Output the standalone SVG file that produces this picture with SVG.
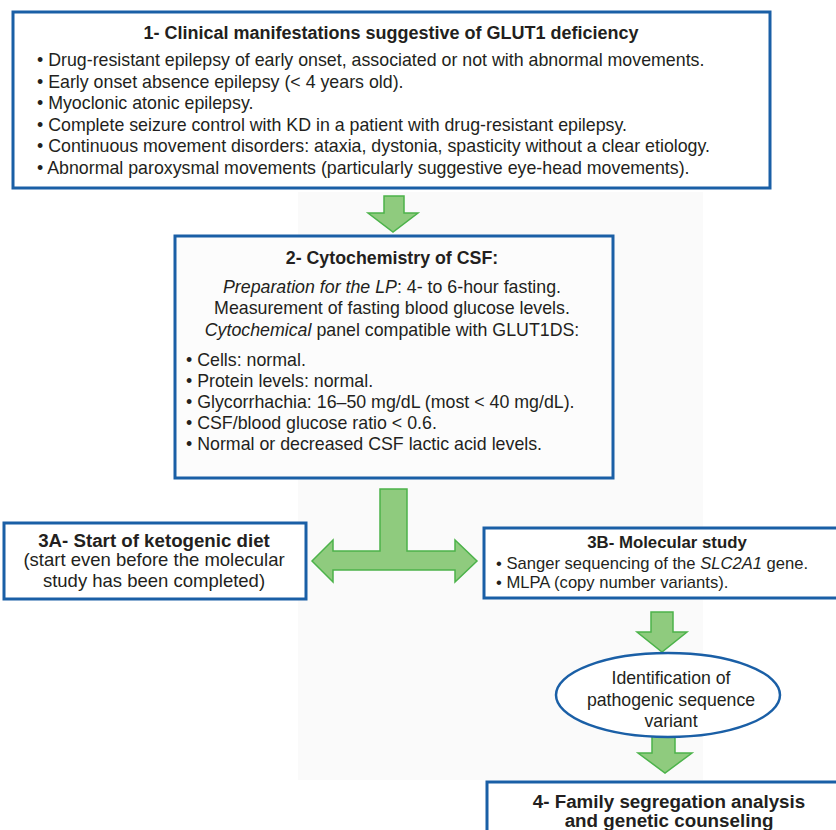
<svg xmlns="http://www.w3.org/2000/svg" width="836" height="830" viewBox="0 0 836 830">
<style>
.box{fill:#ffffff;stroke:#1a5fa6;stroke-width:3}
.arr{fill:#8fcb7e;stroke:#4cb34a;stroke-width:1.5;stroke-linejoin:miter}
text{font-family:"Liberation Sans",Arial,sans-serif;fill:#231f20;font-size:17.8px}
.t{font-weight:bold;text-anchor:middle}
.c{text-anchor:middle}
.i{font-style:italic}
</style>
<rect x="0" y="0" width="836" height="830" fill="#ffffff"/>
<rect x="298" y="192" width="405" height="588" fill="#fafafa"/>
<g id="connectors">
<polygon class="arr" points="384,196 404,196 404,213 418,213 393,232 368,213 384,213"/>
<polygon class="arr" points="380,489 407,489 407,551 455,551 455,540 477,561 455,582 455,570 333,570 333,582 312,561 333,540 333,551 380,551"/>
<polygon class="arr" points="651,612 673,612 673,632 687,632 662,652 637,632 651,632"/>
<polygon class="arr" points="652,733 675,733 675,753 692,753 665,773 638,753 652,753"/>
</g>
<g id="node1">
<rect class="box" x="13" y="12" width="757" height="176"/>
<text class="t" x="391" y="39" style="font-size:18px">1- Clinical manifestations suggestive of GLUT1 deficiency</text>
<text x="37" y="66">• Drug-resistant epilepsy of early onset, associated or not with abnormal movements.</text>
<text x="37" y="88">• Early onset absence epilepsy (&lt; 4 years old).</text>
<text x="37" y="109">• Myoclonic atonic epilepsy.</text>
<text x="37" y="131">• Complete seizure control with KD in a patient with drug-resistant epilepsy.</text>
<text x="37" y="152">• Continuous movement disorders: ataxia, dystonia, spasticity without a clear etiology.</text>
<text x="37" y="174">• Abnormal paroxysmal movements (particularly suggestive eye-head movements).</text>
</g>
<g id="node2">
<rect class="box" x="175" y="236" width="438" height="242" style="fill:#fcfcfc"/>
<text class="t" x="392" y="264">2- Cytochemistry of CSF:</text>
<text class="c" x="392" y="293"><tspan class="i">Preparation for the LP</tspan>: 4- to 6-hour fasting.</text>
<text class="c" x="392" y="314">Measurement of fasting blood glucose levels.</text>
<text class="c" x="392" y="336"><tspan class="i">Cytochemical</tspan> panel compatible with GLUT1DS:</text>
<text x="186" y="366">• Cells: normal.</text>
<text x="186" y="387">• Protein levels: normal.</text>
<text x="186" y="408">• Glycorrhachia: 16–50 mg/dL (most &lt; 40 mg/dL).</text>
<text x="186" y="429">• CSF/blood glucose ratio &lt; 0.6.</text>
<text x="186" y="450">• Normal or decreased CSF lactic acid levels.</text>
</g>
<g id="node3A">
<rect class="box" x="4" y="523" width="302" height="76"/>
<text class="t" x="154" y="547" style="font-size:18.7px">3A- Start of ketogenic diet</text>
<text class="c" x="154" y="566" style="font-size:18.5px">(start even before the molecular</text>
<text class="c" x="154" y="587" style="font-size:18.5px">study has been completed)</text>
</g>
<g id="node3B">
<rect class="box" x="484" y="528" width="356" height="70"/>
<text class="t" x="667" y="548" style="font-size:16.8px">3B- Molecular study</text>
<text x="496" y="569" style="font-size:16.6px">• Sanger sequencing of the <tspan class="i">SLC2A1</tspan> gene.</text>
<text x="496" y="588" style="font-size:16.6px">• MLPA (copy number variants).</text>
</g>
<g id="nodeVariant">
<ellipse cx="668" cy="695" rx="112" ry="42" fill="#ffffff" stroke="#1a5fa6" stroke-width="2.5"/>
<text class="c" x="671" y="684" style="font-size:17.7px">Identification of</text>
<text class="c" x="671" y="706" style="font-size:17.7px">pathogenic sequence</text>
<text class="c" x="671" y="727" style="font-size:17.7px">variant</text>
</g>
<g id="node4">
<rect class="box" x="487" y="782" width="356" height="60"/>
<text class="t" x="669" y="808" style="font-size:18.8px">4- Family segregation analysis</text>
<text class="t" x="669" y="827" style="font-size:18.8px">and genetic counseling</text>
</g>
</svg>
